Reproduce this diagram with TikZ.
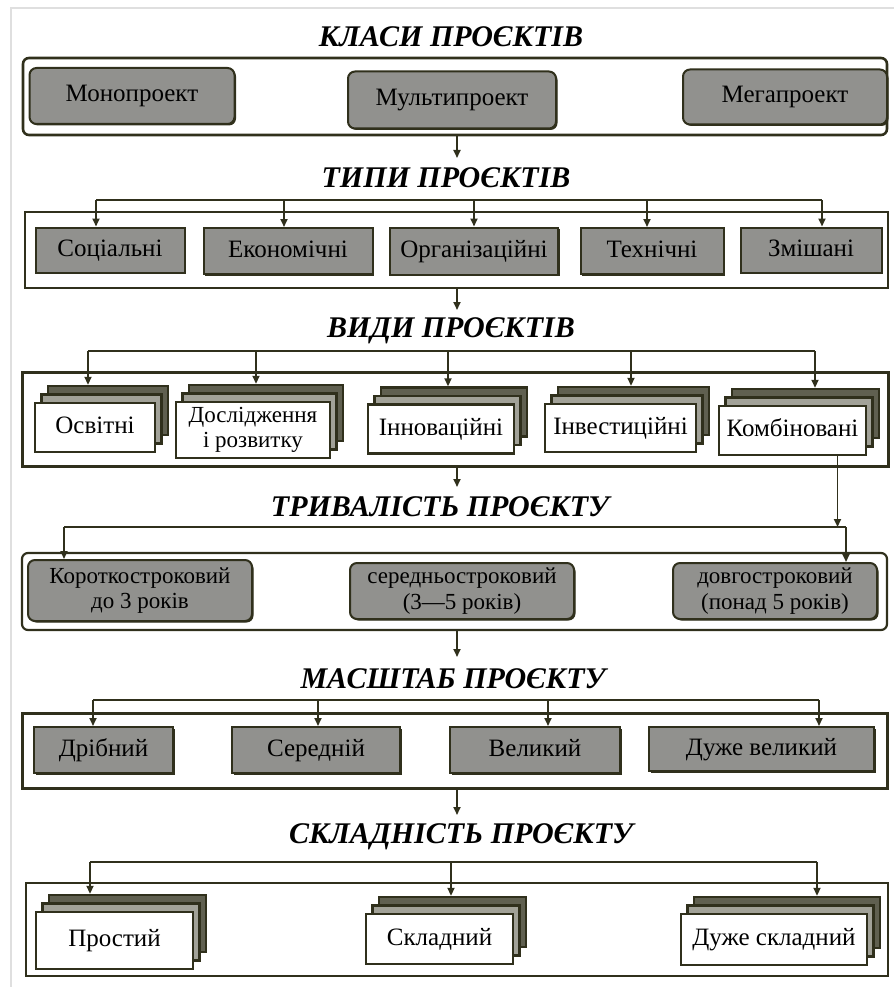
\documentclass[tikz,border=0pt]{standalone}
\usepackage{fontspec}
\setmainfont{Liberation Serif}
\usetikzlibrary{arrows.meta,shadows,calc}
\definecolor{lin}{RGB}{48,48,28}
\definecolor{boxgray}{RGB}{145,145,142}
\definecolor{stackdark}{RGB}{96,96,80}
\definecolor{stackmid}{RGB}{162,162,152}
\newcommand{\ttlfont}{\fontsize{30}{32}\selectfont\bfseries\itshape}
\newcommand{\boxfont}{\fontsize{25}{22}\selectfont}
\newcommand{\twofont}{\fontsize{23}{25.5}\selectfont}

\begin{document}
\begin{tikzpicture}
  [x=1pt,y=-1pt,
   ttl/.style={font=\ttlfont,inner sep=0pt},
   frm/.style={draw=lin,line width=2pt,inner sep=0pt},
   gbox/.style={rectangle,fill=boxgray,draw=lin,line width=2pt,inner sep=0pt,
     font=\boxfont,text height=17pt,text depth=5pt,
     general shadow={fill=lin,shadow xshift=1.5pt,shadow yshift=-1.5pt}},
   rbox/.style={gbox,rounded corners=7pt},
   sbox/.style={rectangle,fill=white,draw=lin,line width=2.4pt,inner sep=0pt,
     font=\boxfont,text height=17pt,text depth=5pt,
     general shadow={fill=stackdark,draw=lin,shadow xshift=13pt,shadow yshift=17pt},
     general shadow={fill=stackmid,draw=lin,shadow xshift=6.5pt,shadow yshift=8.5pt}},
   two/.style={align=center,text height={},text depth={},font=\twofont},
   bus/.style={draw=lin,line width=1.8pt},
   arr/.style={bus,-{Triangle[length=8pt,width=7pt]}}]
  \useasboundingbox (0,0) rectangle (894,987);
  \draw[gray!25,line width=1.5pt] (11,987) -- (11,8) -- (894,8);

  % classes
  \node[ttl] (t1) at (451,37) {КЛАСИ ПРОЄКТІВ};
  \node[frm,rounded corners=6pt,line width=2.6pt,minimum width=864pt,minimum height=77pt] (f1) at (455,96.5) {};
  \node[rbox,minimum width=205pt,minimum height=56pt] (mono) at (132,96) {Монопроект};
  \node[rbox,minimum width=208pt,minimum height=57pt] (multi) at (452,100) {Мультипроект};
  \node[rbox,minimum width=204pt,minimum height=55pt] (mega) at (785,97) {Мегапроект};
  \coordinate (a1) at (457,158);
  \draw[arr] (f1.south -| a1) -- (a1);

  % types
  \node[ttl] (t2) at (446,178) {ТИПИ ПРОЄКТІВ};
  \coordinate (bus2) at (0,200);
  \node[frm,minimum width=863pt,minimum height=76pt] (f2) at (456.5,250) {};
  \node[gbox,minimum width=149pt,minimum height=45pt] (soc) at (110,250) {Соціальні};
  \node[gbox,minimum width=169pt,minimum height=46pt] (eco) at (288,251) {Економічні};
  \node[gbox,minimum width=168pt,minimum height=47pt] (org) at (474,251) {Організаційні};
  \node[gbox,minimum width=143pt,minimum height=46pt] (tech) at (652,251) {Технічні};
  \node[gbox,minimum width=141pt,minimum height=45pt] (mix) at (811,250) {Змішані};
  \foreach \n/\dx in {soc/-14,eco/-4,org/0,tech/-5,mix/11}{
    \coordinate (p\n) at ($(\n.north)+(\dx,0)$);
    \draw[arr] (p\n |- bus2) -- (p\n);
  }
  \draw[bus] (psoc |- bus2) -- (pmix |- bus2);
  \coordinate (a2) at (457,310);
  \draw[arr] (f2.south -| a2) -- (a2);

  % kinds
  \node[ttl] (t3) at (451,331) {ВИДИ ПРОЄКТІВ};
  \coordinate (bus3) at (0,351);
  \node[frm,line width=3pt,minimum width=866pt,minimum height=94pt] (f3) at (455,419) {};
  \node[sbox,minimum width=120pt,minimum height=49pt] (osv) at (95,427.5) {Освітні};
  \node[sbox,two,minimum width=154pt,minimum height=56pt] (dosl) at (253,430) {Дослідження\\і розвитку};
  \node[sbox,minimum width=146pt,minimum height=49pt] (innov) at (441,429) {Інноваційні};
  \node[sbox,minimum width=151pt,minimum height=48pt] (invest) at (620.5,428) {Інвестиційні};
  \node[sbox,minimum width=147pt,minimum height=49pt] (komb) at (792.5,430.5) {Комбіновані};
  \foreach \n/\dx in {osv/-7,dosl/3,innov/7,invest/10.5,komb/22.5}{
    \coordinate (p\n) at ($(\n.north)+(\dx,-17)$);
    \draw[arr] (p\n |- bus3) -- (p\n);
  }
  \draw[bus] (posv |- bus3) -- (pkomb |- bus3);
  \coordinate (a3) at (457,487);
  \draw[arr] (f3.south -| a3) -- (a3);

  % duration
  \node[ttl] (t4) at (440,507) {ТРИВАЛІСТЬ ПРОЄКТУ};
  \coordinate (bus4) at (0,527);
  \node[frm,rounded corners=6pt,line width=2.2pt,minimum width=865pt,minimum height=77pt] (f4) at (454.5,591.5) {};
  \node[rbox,two,minimum width=224pt,minimum height=61pt] (kor) at (140,590.5) {Короткостроковий\\до 3 років};
  \node[rbox,two,minimum width=224pt,minimum height=56pt] (ser) at (462,591) {середньостроковий\\(3—5 років)};
  \node[rbox,two,minimum width=204pt,minimum height=56pt] (dovg) at (775,591) {довгостроковий\\(понад 5 років)};
  \coordinate (kd) at ($(komb.south)+(45,0)$);
  \draw[arr] (kd) -- (kd |- bus4);
  \foreach \n/\dx in {kor/-76,dovg/71}{
    \coordinate (p\n) at ($(\n.north)+(\dx,0)$);
    \draw[arr] (p\n |- bus4) -- (p\n);
  }
  \draw[bus] (pkor |- bus4) -- (pdovg |- bus4);
  \coordinate (a4) at (457,657);
  \draw[arr] (f4.south -| a4) -- (a4);

  % scale
  \node[ttl] (t5) at (453,679) {МАСШТАБ ПРОЄКТУ};
  \coordinate (bus5) at (0,700);
  \node[frm,line width=3pt,minimum width=865pt,minimum height=75pt] (f5) at (454.5,750.5) {};
  \node[gbox,minimum width=139pt,minimum height=46pt] (drib) at (103.5,750) {Дрібний};
  \node[gbox,minimum width=168pt,minimum height=46pt] (sered) at (316,750) {Середній};
  \node[gbox,minimum width=170pt,minimum height=46pt] (vel) at (535,750) {Великий};
  \node[gbox,minimum width=225pt,minimum height=44pt] (dvel) at (761.5,749) {Дуже великий};
  \foreach \n/\dx in {drib/-10.5,sered/2,vel/13,dvel/57.5}{
    \coordinate (p\n) at ($(\n.north)+(\dx,0)$);
    \draw[arr] (p\n |- bus5) -- (p\n);
  }
  \draw[bus] (pdrib |- bus5) -- (pdvel |- bus5);
  \coordinate (a5) at (457,815);
  \draw[arr] (f5.south -| a5) -- (a5);

  % complexity
  \node[ttl] (t6) at (461,837) {СКЛАДНІСТЬ ПРОЄКТУ};
  \coordinate (bus6) at (0,862);
  \node[frm,minimum width=862pt,minimum height=93pt] (f6) at (457,929.5) {};
  \node[sbox,minimum width=157pt,minimum height=57pt] (prost) at (114.5,940.5) {Простий};
  \node[sbox,minimum width=147pt,minimum height=50pt] (skl) at (439.5,939) {Складний};
  \node[sbox,minimum width=186pt,minimum height=51pt] (dskl) at (774,939.5) {Дуже складний};
  \foreach \n/\dx in {prost/-24.5,skl/11.5,dskl/43}{
    \coordinate (p\n) at ($(\n.north)+(\dx,-17)$);
    \draw[arr] (p\n |- bus6) -- (p\n);
  }
  \draw[bus] (pprost |- bus6) -- (pdskl |- bus6);
\end{tikzpicture}
\end{document}
